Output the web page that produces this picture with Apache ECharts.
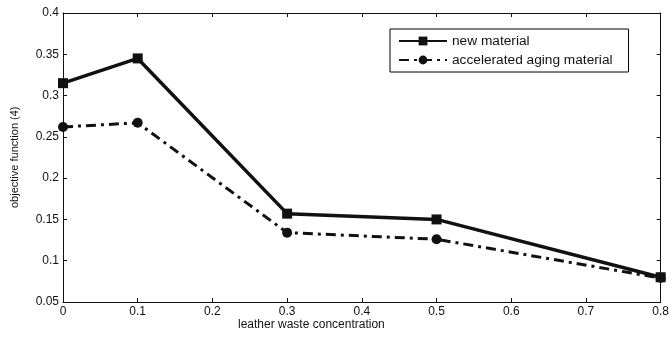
<!DOCTYPE html>
<html>
<head>
<meta charset="utf-8">
<script src="https://cdn.jsdelivr.net/npm/echarts@6/dist/echarts.min.js"></script>
<style>
  html, body { margin: 0; padding: 0; background: #fff; }
  #main { width: 672px; height: 338px; }
</style>
</head>
<body>
<div id="main"></div>
<script>
// values
const concentration = [0, 0.1, 0.3, 0.5, 0.8];
const newMaterial = [0.315, 0.345, 0.157, 0.150, 0.080];
const agedMaterial = [0.262, 0.267, 0.134, 0.126, 0.079];
const seriesNames = ["new material", "accelerated aging material"];

const pairs = (xs, ys) => xs.map((x, i) => [x, ys[i]]);

const axisColor = "#111";
const font = "Liberation Sans, Arial, sans-serif";

var chart = echarts.init(document.getElementById("main"));

var boxAxis = {
  axisLine: { show: true, onZero: false, lineStyle: { color: axisColor, width: 1 } },
  axisTick: { show: true, inside: true, length: 4, lineStyle: { color: axisColor } },
  splitLine: { show: false }
};

var option = {
  animation: false,
  backgroundColor: "#fff",
  textStyle: { fontFamily: font },
  grid: { left: 63, right: 9, top: 13, bottom: 36 },
  legend: {
    left: 390,
    top: 29,
    orient: "vertical",
    padding: [5, 16, 5, 8],
    itemGap: 5,
    itemWidth: 48,
    itemHeight: 11,
    borderColor: "#000",
    borderWidth: 1,
    textStyle: { fontSize: 13.7, color: "#111", fontFamily: font },
    data: seriesNames
  },
  graphic: [
    {
      type: "text",
      left: 238,
      top: 319,
      style: { text: "leather waste concentration", fill: "#111", font: "12px " + font }
    },
    {
      type: "text",
      x: 9,
      y: 208,
      rotation: Math.PI / 2,
      style: { text: "objective function (4)", fill: "#111", font: "11px " + font }
    }
  ],
  xAxis: [
    Object.assign({}, boxAxis, {
      type: "value",
      min: 0,
      max: 0.8,
      interval: 0.1,
      axisLabel: { color: "#111", fontSize: 12, margin: 4, fontFamily: font }
    }),
    Object.assign({}, boxAxis, {
      type: "value",
      position: "top",
      min: 0,
      max: 0.8,
      interval: 0.1,
      axisLabel: { show: false }
    })
  ],
  yAxis: [
    Object.assign({}, boxAxis, {
      type: "value",
      min: 0.05,
      max: 0.4,
      interval: 0.05,
      axisLabel: { color: "#111", fontSize: 12, margin: 4, fontFamily: font }
    }),
    Object.assign({}, boxAxis, {
      type: "value",
      position: "right",
      min: 0.05,
      max: 0.4,
      interval: 0.05,
      axisLabel: { show: false }
    })
  ],
  series: [
    {
      name: seriesNames[0],
      type: "line",
      data: pairs(concentration, newMaterial),
      symbol: "rect",
      symbolSize: 10,
      itemStyle: { color: "#111" },
      lineStyle: { color: "#111", width: 3.5, type: "solid" },
      z: 3
    },
    {
      name: seriesNames[1],
      type: "line",
      data: pairs(concentration, agedMaterial),
      symbol: "circle",
      symbolSize: 10,
      itemStyle: { color: "#111" },
      lineStyle: { color: "#111", width: 3, type: [10, 5, 3, 5] },
      z: 2
    }
  ]
};

chart.setOption(option);
</script>
</body>
</html>
